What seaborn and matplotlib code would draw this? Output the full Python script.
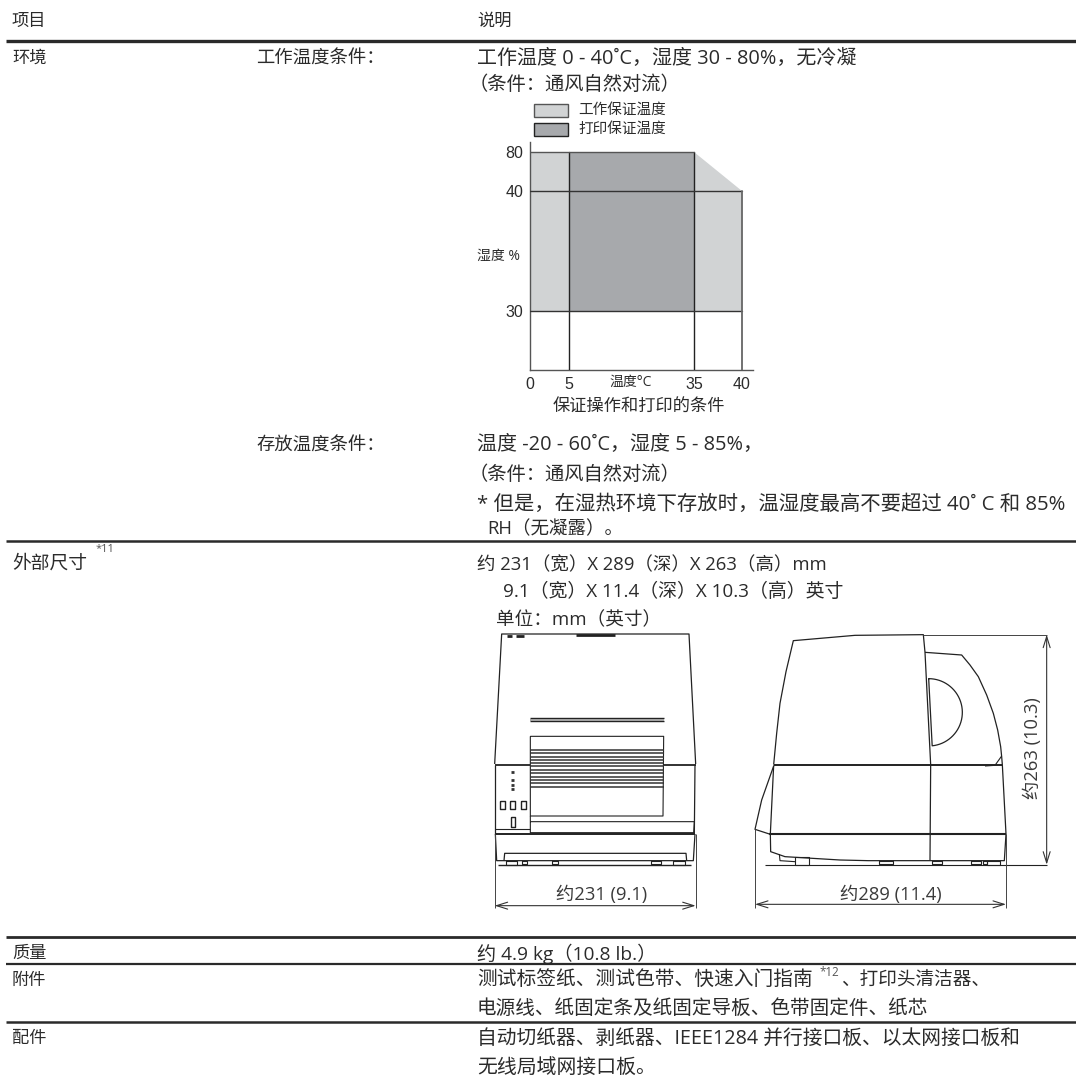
import numpy as np
import pandas as pd
import matplotlib
matplotlib.use("Agg")
import matplotlib.pyplot as plt
import seaborn as sns

# ---- chart data (temperature / humidity envelope) ----
temp_ticks = [0, 5, 35, 40]
hum_ticks = [30, 40, 80]
op_temp = [0, 0, 35, 40, 40]
op_hum = [30, 80, 80, 40, 30]
print_temp = [5, 5, 35, 35]
print_hum = [30, 80, 80, 30]
legend_labels = ["工作保证温度", "打印保证温度"]

# ---- table text ----
header = ["项目", "说明"]
rows_left = [("环境", 59), ("质量", 954), ("附件", 981), ("配件", 1039)]
rows_mid = [("工作温度条件：", 59), ("存放温度条件：", 446)]
desc_lines = [
    ("工作温度 0 - 40˚C，湿度 30 - 80%，无冷凝", 477, 59, 14.4),
    ("（条件：通风自然对流）", 469, 85, 13.9),
    ("温度 -20 - 60˚C，湿度 5 - 85%，", 477, 445, 14.4),
    ("（条件：通风自然对流）", 469, 475, 13.9),
    ("* 但是，在湿热环境下存放时，温湿度最高不要超过 40˚ C 和 85%", 477, 505, 14.7),
    ("RH（无凝露）。", 487, 529, 13.3),
    ("约 231（宽）X 289（深）X 263（高）mm", 477, 565, 13.3),
    ("9.1（宽）X 11.4（深）X 10.3（高）英寸", 503, 592, 13.6),
    ("单位：mm（英寸）", 496, 620, 13.4),
    ("约 4.9 kg（10.8 lb.）", 477, 954, 13.8),
    ("测试标签纸、测试色带、快速入门指南", 477, 980, 14.2),
    ("、打印头清洁器、", 841, 980, 13.4),
    ("电源线、纸固定条及纸固定导板、色带固定件、纸芯", 477, 1009, 14.1),
    ("自动切纸器、剥纸器、IEEE1284 并行接口板、以太网接口板和", 477, 1039, 14.2),
    ("无线局域网接口板。", 477, 1068, 14.3),
]
rule_y = [(41, 2.4), (541, 1.8), (936.5, 2.0), (964, 1.6), (1022, 1.8)]

sns.set_theme(style="white")
BODY = ["Open Sans", "Noto Sans CJK SC", "DejaVu Sans"]
plt.rcParams["font.family"] = BODY

fig = plt.figure(figsize=(10.76, 10.76), dpi=100, facecolor="white")
page = fig.add_axes([0, 0, 1, 1])
page.set_xlim(0, 1076)
page.set_ylim(1076, 0)
page.axis("off")

TXT = "#2b2b2b"
BS = 12.4


def put(s, x, y, size=BS, **kw):
    kw.setdefault("color", TXT)
    kw.setdefault("va", "center")
    page.text(x, y, s, fontsize=size, **kw)


for y, lw in rule_y:
    page.plot([6, 1076], [y, y], color="#2a2a2a", lw=lw, solid_capstyle="butt")

put(header[0], 12, 22)
put(header[1], 477, 22)
for s, y in rows_left:
    put(s, 12, y)
for s, y in rows_mid:
    put(s, 256, y, size=13.2)
put("外部尺寸", 12, 564, size=13.5)
put("*11", 96, 549, size=8, color="#555555")
for s, x, y, size in desc_lines:
    put(s, x, y, size=size)
put("*12", 820, 972, size=8.4, color="#555555")


# ---- line art of the printer, traced in zoomed crop units ----
def art(origin, pts, lw=0.9, color="#222222"):
    a = np.asarray(pts, float)
    page.plot(origin[0] + a[:, 0] / 3, origin[1] + a[:, 1] / 3, color=color, lw=lw,
              solid_joinstyle="round", solid_capstyle="butt")


def box(origin, x0, y0, x1, y1, lw=0.9):
    art(origin, [(x0, y0), (x1, y0), (x1, y1), (x0, y1), (x0, y0)], lw)


def arrow(a, b):
    page.annotate("", xy=b, xytext=a,
                  arrowprops=dict(arrowstyle="<->,head_length=0.8,head_width=0.25", color="#333333",
                                  lw=0.8, shrinkA=0, shrinkB=0, mutation_scale=10))


F = (480, 600)
art(F, [(44, 492), (65, 102), (627, 102), (647, 492)])
art(F, [(288, 104), (405, 104)], lw=2)
art(F, [(82, 108), (96, 108)], lw=2)
art(F, [(108, 108), (132, 108)], lw=2)
art(F, [(150, 355), (552, 355)], lw=1)
art(F, [(150, 363), (552, 363)], lw=1)
art(F, [(150, 359), (552, 359)], lw=1.2, color="#999999")
art(F, [(151, 409), (551, 409), (549, 648), (151, 648), (151, 409)], lw=0.8)
for yy in [450, 458, 470, 480, 488, 498, 510, 520, 530, 540, 548, 562]:
    art(F, [(151, yy), (551, yy)], lw=1.1, color="#333333")
art(F, [(46, 494), (150, 494)], lw=1.3)
art(F, [(552, 494), (647, 494)], lw=1.3)
art(F, [(46, 494), (46, 702)])
art(F, [(645, 494), (643, 702)])
art(F, [(151, 665), (643, 665), (641, 698), (151, 698), (151, 648)], lw=0.8)
art(F, [(46, 688), (150, 688)], lw=0.8)
art(F, [(46, 702), (645, 702)], lw=1.4)
art(F, [(46, 702), (50, 782), (640, 782), (645, 702)])
art(F, [(72, 782), (74, 760), (618, 760), (620, 782)], lw=0.9)
art(F, [(55, 794), (632, 794)], lw=1.0)
for b in [(78, 782, 112, 794), (125, 782, 142, 792), (215, 782, 235, 792), (512, 782, 542, 792), (580, 782, 615, 794)]:
    box(F, *b, lw=0.8)
for yy in [515, 540, 554, 568]:
    art(F, [(94, yy), (103, yy)], lw=2, color="#333333")
for b in [(60, 602, 75, 628), (91, 602, 106, 628), (122, 602, 137, 628), (92, 652, 106, 680)]:
    box(F, *b, lw=1.0)
art(F, [(44, 702), (44, 925)], lw=0.7, color="#444444")
art(F, [(647, 702), (647, 925)], lw=0.7, color="#444444")
arrow((F[0] + 44 / 3, F[1] + 917 / 3), (F[0] + 647 / 3, F[1] + 917 / 3))
put("约231 (9.1)", 601.5, 895, size=13.2, ha="center", color="#3a3a3a")

S = (730, 600)
art(S, [(131, 494), (140, 400), (150, 310), (168, 215), (190, 122), (375, 106), (580, 104), (585, 157), (602, 494), (600, 782)])
art(S, [(585, 157), (695, 165), (720, 195), (745, 230), (770, 285), (790, 340), (803, 390), (812, 440), (815, 470),
        (817, 494), (828, 702), (823, 782), (600, 782)])
ang = np.radians(np.linspace(-90, 84, 40))
art(S, np.r_[np.c_[596 + 101 * np.cos(ang), 337 + 101 * np.sin(ang)], [(596, 235)]])
art(S, [(131, 496), (815, 496)], lw=1.4)
art(S, [(765, 498), (795, 496), (815, 468)], lw=0.8)
art(S, [(131, 496), (121, 702), (122, 755), (165, 770), (330, 780), (415, 782), (600, 782)])
art(S, [(131, 498), (95, 600), (75, 688), (118, 702)])
art(S, [(118, 702), (828, 702)], lw=1.5)
art(S, [(105, 794), (950, 794)], lw=0.8)
for b in [(195, 772, 236, 794), (447, 782, 490, 792), (605, 782, 635, 792), (722, 782, 752, 792), (760, 782, 770, 792), (772, 782, 810, 794)]:
    box(S, *b, lw=0.8)
art(S, [(148, 762), (150, 782), (195, 785)], lw=0.8)
art(S, [(580, 104), (950, 104)], lw=0.7, color="#444444")
art(S, [(75, 688), (75, 925)], lw=0.7, color="#444444")
art(S, [(828, 702), (828, 925)], lw=0.7, color="#444444")
arrow((S[0] + 75 / 3, S[1] + 913 / 3), (S[0] + 828 / 3, S[1] + 913 / 3))
arrow((S[0] + 950 / 3, S[1] + 104 / 3), (S[0] + 950 / 3, S[1] + 794 / 3))
put("约289 (11.4)", 891, 895, size=13.2, ha="center", color="#3a3a3a")
put("约263 (10.3)", 1033, 748, size=13.2, ha="center", rotation=90, color="#3a3a3a")

# ---- temperature / humidity chart ----
ax = fig.add_axes([530 / 1076, 1 - 370 / 1076, 223 / 1076, 228 / 1076], facecolor="none")
x_val, x_px = [0, 5, 35, 40, 44], [0, 39, 164, 212, 223]
y_val, y_px = [20, 30, 40, 80, 90], [0, 59, 179, 218, 228]
ax.set_xscale("function", functions=(lambda v: np.interp(v, x_val, x_px), lambda p: np.interp(p, x_px, x_val)))
ax.set_yscale("function", functions=(lambda v: np.interp(v, y_val, y_px), lambda p: np.interp(p, y_px, y_val)))
ax.set_xlim(0, 44)
ax.set_ylim(20, 90)

LIGHT, DARK = "#d1d3d4", "#a7a9ac"
ax.fill(op_temp, op_hum, color=LIGHT, lw=0, zorder=1)
ax.fill(print_temp, print_hum, color=DARK, lw=0, zorder=2)


def seg(xs, ys, color="#222222", lw=1.0):
    sns.lineplot(data=pd.DataFrame({"t": xs, "h": ys}), x="t", y="h", ax=ax, color=color, lw=lw,
                 sort=False, estimator=None, errorbar=None, zorder=3)


for t in print_temp[1:3]:
    seg([t, t], [20, max(hum_ticks)])
seg([0, 35], [80, 80], "#555555")
for h in hum_ticks[:2]:
    seg([0, 40], [h, h], "#333333")
seg([40, 40], [20, 40], "#666666", 1.3)

ax.set_xlabel("")
ax.set_ylabel("")
for s in ["top", "right"]:
    ax.spines[s].set_visible(False)
for s in ["left", "bottom"]:
    ax.spines[s].set_color("#555555")
    ax.spines[s].set_linewidth(1.0)
ax.set_xticks(temp_ticks)
ax.set_yticks(hum_ticks)
ax.set_xticklabels([str(v) for v in temp_ticks], fontfamily="Liberation Sans", fontsize=11.5, color=TXT)
ax.set_yticklabels([str(v) for v in hum_ticks], fontfamily="Liberation Sans", fontsize=11.5, color=TXT)
ax.tick_params(axis="both", length=0, pad=5)

put("湿度 %", 477, 256, size=10)
put("温度°C", 631, 382, size=10, ha="center")
put("保证操作和打印的条件", 639, 408, size=12.4, ha="center")
for (s, y0, c, ec) in [(legend_labels[0], 104, LIGHT, "#555555"), (legend_labels[1], 123, DARK, "#222222")]:
    page.add_patch(plt.Rectangle((534, y0), 34, 13, fc=c, ec=ec, lw=1))
    put(s, 578, y0 + 6.5, size=10.5)

fig.savefig("out.png", dpi=100)
